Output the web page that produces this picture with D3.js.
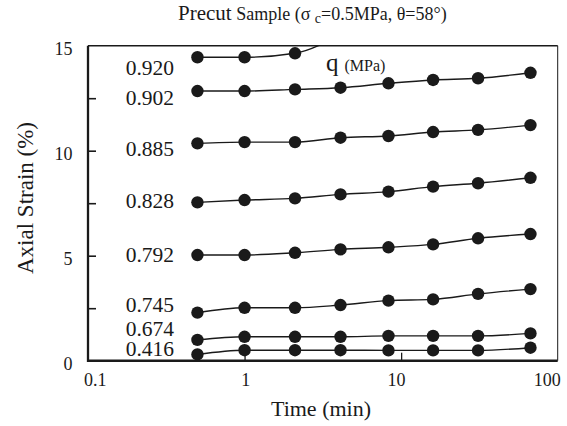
<!DOCTYPE html>
<html>
<head>
<meta charset="utf-8">
<script src="https://cdn.jsdelivr.net/npm/d3@7"></script>
<style>
  body { margin: 0; background: #fff; }
  svg text { font-family: "Liberation Serif", "Times New Roman", serif; fill: #1a1a1a; }
</style>
</head>
<body>
<svg id="chart"></svg>
<script>
// time (min) for each reading, shared by every curve
const times = [0.5, 1, 2.1, 4.1, 8.3, 16, 31, 67];

// q (MPa) label of each curve, top to bottom
const qLabels = ['0.920', '0.902', '0.885', '0.828', '0.792', '0.745', '0.674', '0.416'];

// axial strain (%) per curve
const strain920 = [14.45, 14.45, 14.64, 15.55];
const strain902 = [12.84, 12.84, 12.92, 13.0, 13.21, 13.37, 13.45, 13.71];
const strain885 = [10.35, 10.41, 10.41, 10.62, 10.7, 10.89, 10.99, 11.22];
const strain828 = [7.54, 7.65, 7.73, 7.92, 8.05, 8.29, 8.45, 8.71];
const strain792 = [5.03, 5.03, 5.14, 5.3, 5.4, 5.54, 5.83, 6.03];
const strain745 = [2.29, 2.52, 2.52, 2.65, 2.86, 2.92, 3.18, 3.41];
const strain674 = [0.99, 1.14, 1.14, 1.14, 1.18, 1.18, 1.18, 1.3];
const strain416 = [0.3, 0.5, 0.5, 0.5, 0.49, 0.49, 0.49, 0.62];

const xTicks = [0.1, 1, 10, 100];
const yTicks = [0, 5, 10, 15];
const yMinor = [2.5, 5, 7.5, 10, 12.5];

const series = [strain920, strain902, strain885, strain828, strain792, strain745, strain674, strain416]
  .map((vals, i) => ({ label: qLabels[i], points: vals.map((v, j) => [times[j], v]) }));

const width = 567;
const height = 426;
const margin = { top: 45.7, right: 9.3, bottom: 65.3, left: 88 };

// label baseline offset from the first marker, px
const labelShift = [18, 14, 13, 6, 6.5, -1, -3.5, 2];

const svg = d3.select('#chart').attr('width', width).attr('height', height);

const x = d3.scaleLog().domain([0.1, 100]).range([margin.left, width - margin.right]);
const xLab = d3.scaleLog().domain([0.1, 100]).range([margin.left + 6.7, width - margin.right - 11]);
const y = d3.scaleLinear().domain([0, 15]).range([height - margin.bottom, margin.top]);

svg.append('defs').append('clipPath').attr('id', 'plot')
  .append('rect')
  .attr('x', margin.left)
  .attr('y', margin.top)
  .attr('width', width - margin.left - margin.right)
  .attr('height', height - margin.top - margin.bottom);

// frame: thin top/right, heavy left/bottom
svg.append('line')
  .attr('x1', margin.left).attr('x2', width - margin.right)
  .attr('y1', margin.top).attr('y2', margin.top)
  .attr('stroke', '#1a1a1a').attr('stroke-width', 1.4);
svg.append('line')
  .attr('x1', width - margin.right).attr('x2', width - margin.right)
  .attr('y1', margin.top).attr('y2', height - margin.bottom)
  .attr('stroke', '#1a1a1a').attr('stroke-width', 1);

// inner ticks
svg.append('g')
  .attr('transform', `translate(${margin.left},0)`)
  .call(d3.axisRight(y).tickValues(yMinor).tickSize(8).tickFormat(''))
  .call((g) => g.select('.domain').remove())
  .call((g) => g.selectAll('line').attr('stroke', '#1a1a1a').attr('stroke-width', 1.6));

svg.append('g')
  .attr('transform', `translate(0,${height - margin.bottom})`)
  .call(d3.axisTop(x).tickValues([1, 10]).tickSize(8).tickFormat(''))
  .call((g) => g.select('.domain').remove())
  .call((g) => g.selectAll('line').attr('stroke', '#1a1a1a').attr('stroke-width', 1.3));

// tick labels
svg.append('g')
  .attr('transform', `translate(${margin.left},0)`)
  .call(d3.axisLeft(y).tickValues(yTicks).tickSize(0).tickPadding(15.5))
  .call((g) => g.select('.domain').remove())
  .call((g) => g.selectAll('text')
    .attr('font-size', 18).attr('dy', '0.5em')
    .style('font-family', '"Liberation Serif", serif').attr('fill', '#1a1a1a'));

svg.append('g')
  .attr('transform', `translate(0,${height - margin.bottom})`)
  .call(d3.axisBottom(xLab).tickValues(xTicks).tickSize(0).tickPadding(12.3).tickFormat((d) => String(d)))
  .call((g) => g.select('.domain').remove())
  .call((g) => g.selectAll('text')
    .attr('font-size', 18)
    .style('font-family', '"Liberation Serif", serif').attr('fill', '#1a1a1a'));

// heavy axis lines
svg.append('line')
  .attr('x1', margin.left).attr('x2', margin.left)
  .attr('y1', margin.top).attr('y2', height - margin.bottom + 1.2)
  .attr('stroke', '#1a1a1a').attr('stroke-width', 2.3);
svg.append('line')
  .attr('x1', margin.left).attr('x2', width - margin.right)
  .attr('y1', height - margin.bottom).attr('y2', height - margin.bottom)
  .attr('stroke', '#1a1a1a').attr('stroke-width', 2.4);

const line = d3.line()
  .x((d) => x(d[0]))
  .y((d) => y(d[1]))
  .curve(d3.curveMonotoneX);

const plot = svg.append('g').attr('clip-path', 'url(#plot)');

series.forEach((s) => {
  plot.append('path')
    .datum(s.points)
    .attr('fill', 'none')
    .attr('stroke', '#1a1a1a')
    .attr('stroke-width', 1.4)
    .attr('d', line);

  plot.selectAll(null)
    .data(s.points)
    .enter()
    .append('circle')
    .attr('cx', (d) => x(d[0]))
    .attr('cy', (d) => y(d[1]))
    .attr('r', 6.2)
    .attr('fill', '#1a1a1a');
});

svg.selectAll('.qlabel')
  .data(series)
  .enter()
  .append('text')
  .attr('class', 'qlabel')
  .attr('x', 174)
  .attr('y', (d, i) => y(d.points[0][1]) + labelShift[i])
  .attr('text-anchor', 'end')
  .attr('font-size', 21.5)
  .text((d) => d.label);

// q (MPa) legend
const q = svg.append('text').attr('x', 326).attr('y', 71);
q.append('tspan').attr('font-size', 25).text('q');
q.append('tspan').attr('font-size', 16).attr('dx', 6).text('(MPa)');

// title
const title = svg.append('text').attr('x', 178).attr('y', 20);
title.append('tspan').attr('font-size', 21).text('Precut');
title.append('tspan').attr('font-size', 18).text(' Sample (σ ');
title.append('tspan').attr('font-size', 14).attr('dy', 3).text('c');
title.append('tspan').attr('font-size', 18).attr('dy', -3).text('=0.5MPa, θ=58°)');

// axis titles
svg.append('text')
  .attr('x', 321)
  .attr('y', 416)
  .attr('text-anchor', 'middle')
  .attr('font-size', 22)
  .text('Time (min)');

svg.append('text')
  .attr('transform', 'translate(33,198) rotate(-90)')
  .attr('text-anchor', 'middle')
  .attr('font-size', 23)
  .text('Axial Strain (%)');
</script>
</body>
</html>
